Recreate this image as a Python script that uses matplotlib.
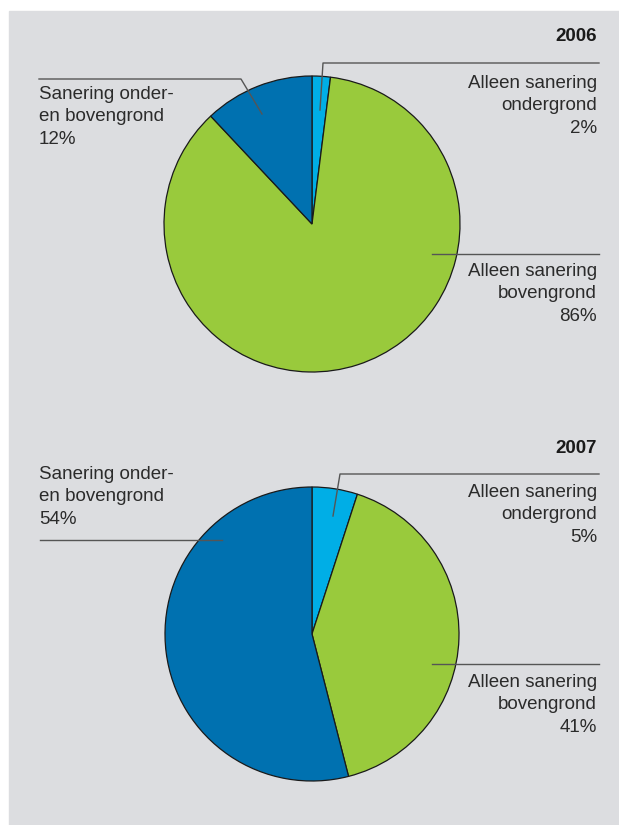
import matplotlib
matplotlib.use("Agg")
import matplotlib.pyplot as plt
from matplotlib.patches import Rectangle

W, H = 619, 825

categories = ["Alleen sanering\nondergrond", "Alleen sanering\nbovengrond",
              "Sanering onder-\nen bovengrond"]
years = ["2006", "2007"]
shares_2006 = [2, 86, 12]
shares_2007 = [5, 41, 54]
colors = ["#00aee6", "#99ca3c", "#0071b0"]

BG = "#dcdde0"
TXT = "#2b2b2b"
LINE = "#555555"
FONT = ["Liberation Sans Narrow", "Liberation Sans", "DejaVu Sans"]
FS = 13.5

# layout in pixels from the top-left corner
panels = [
    dict(year=years[0], shares=shares_2006, center=(312, 224), r=148, year_y=28,
         labels=[((597, 75), "right", [(599, 63), (323, 63), (320, 110)]),
                 ((597, 263), "right", [(599, 254), (432, 254)]),
                 ((39, 86), "left", [(39, 79), (241, 79), (262, 114)])]),
    dict(year=years[1], shares=shares_2007, center=(312, 634), r=147, year_y=440,
         labels=[((597, 484), "right", [(599, 474), (340, 474), (333, 516)]),
                 ((597, 674), "right", [(599, 664), (432, 664)]),
                 ((39, 466), "left", [(40, 540), (222, 540)])]),
]


def py(y):
    return H - y


fig = plt.figure(figsize=(W / 100, H / 100), dpi=100)
ax = fig.add_axes([0, 0, 1, 1])
ax.add_patch(Rectangle((9, 0), W - 9, H - 11, color=BG, zorder=0))

for p in panels:
    cx, cy = p["center"]
    ax.pie(p["shares"], colors=colors, startangle=90, counterclock=False,
           center=(cx, py(cy)), radius=p["r"],
           wedgeprops=dict(edgecolor="#1a1a1a", linewidth=0.9, zorder=2))
    ax.text(597, py(p["year_y"]), p["year"], ha="right", va="top",
            fontsize=FS, fontweight="bold", color="#1a1a1a", family=FONT)
    for (cat, share, (pos, ha, line)) in zip(categories, p["shares"], p["labels"]):
        xs = [pt[0] for pt in line]
        ys = [py(pt[1]) for pt in line]
        ax.plot(xs, ys, color=LINE, lw=1.0, zorder=3)
        ax.text(pos[0], py(pos[1]), f"{cat}\n{share}%", ha=ha, va="top",
                multialignment=ha, fontsize=FS, color=TXT, family=FONT,
                linespacing=1.42)

ax.set_xlim(0, W)
ax.set_ylim(0, H)
ax.set_aspect("equal")
ax.axis("off")

fig.savefig("out.png", dpi=100, facecolor="white")
